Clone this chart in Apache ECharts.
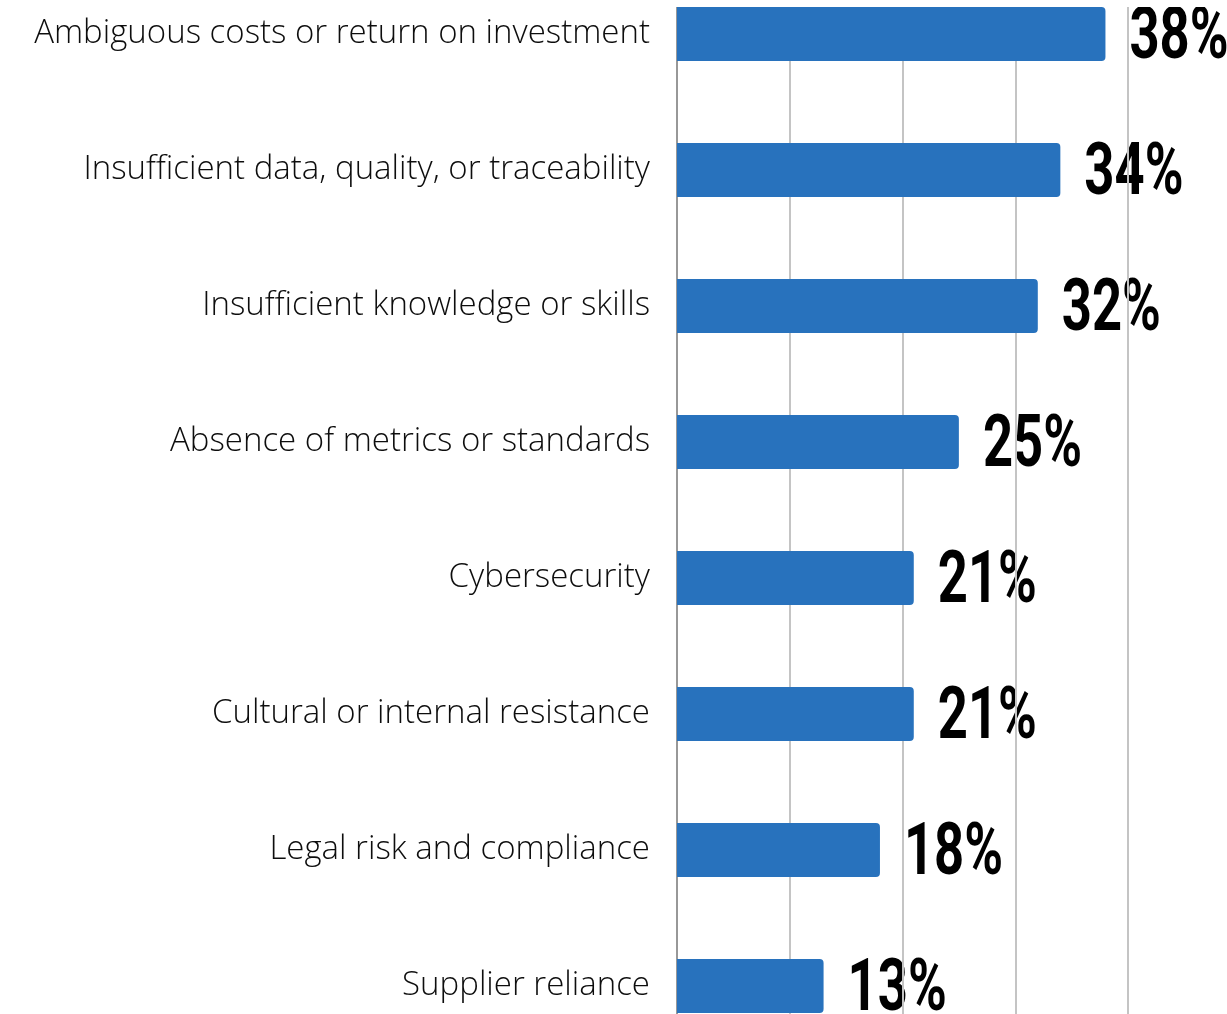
<!DOCTYPE html>
<html>
<head>
<meta charset="utf-8">
<script src="https://cdn.jsdelivr.net/npm/echarts@6/dist/echarts.min.js"></script>
<style>
  html, body { margin: 0; padding: 0; background: #ffffff; }
  #chart { width: 1227px; height: 1014px; }
</style>
</head>
<body>
<div id="chart"></div>
<script>
// Barriers, share of respondents (%)
const categories = [
  'Ambiguous costs or return on investment',
  'Insufficient data, quality, or traceability',
  'Insufficient knowledge or skills',
  'Absence of metrics or standards',
  'Cybersecurity',
  'Cultural or internal resistance',
  'Legal risk and compliance',
  'Supplier reliance'
];
const values = [38, 34, 32, 25, 21, 21, 18, 13];

const chart = echarts.init(document.getElementById('chart'));
chart.setOption({
  animation: false,
  grid: { left: 677, right: 99, top: -34, height: 1088, outerBoundsMode: 'none', containLabel: false },
  xAxis: {
    type: 'value',
    min: 0,
    max: 40,
    interval: 10,
    axisLabel: { show: false },
    axisLine: { show: false },
    axisTick: { show: false },
    splitLine: { show: true, lineStyle: { color: '#c4c4c4', width: 2 } }
  },
  yAxis: {
    type: 'category',
    inverse: true,
    data: categories,
    axisTick: { show: false },
    axisLine: { show: true, lineStyle: { color: '#8a8a8a', width: 1.5 } },
    axisLabel: {
      margin: 27,
      color: '#0d0d0d',
      fontFamily: 'Open Sans',
      fontWeight: 300,
      fontSize: 33
    }
  },
  graphic: [{
    type: 'rect',
    z: 1,
    shape: { x: 640, y: 0, width: 600, height: 7 },
    style: { fill: '#ffffff' }
  }],
  series: [{
    type: 'bar',
    data: values,
    barWidth: 54,
    itemStyle: { color: '#2872bd', borderRadius: [0, 4, 4, 0] }
  }, {
    // condensed value labels, sitting under the grid lines
    type: 'custom',
    z: -1,
    data: values.map((v, i) => [v, i]),
    encode: { x: 0, y: 1 },
    renderItem: function (params, api) {
      const p = api.coord([api.value(0), api.value(1)]);
      return {
        type: 'text',
        x: p[0] + 24,
        y: p[1] + 6,
        scaleX: 0.72,
        style: {
          x: 0,
          y: 0,
          text: api.value(0) + '%',
          fill: '#000000',
          font: 'bold 73px Roboto',
          textAlign: 'left',
          textVerticalAlign: 'middle'
        }
      };
    }
  }]
});
</script>
</body>
</html>
